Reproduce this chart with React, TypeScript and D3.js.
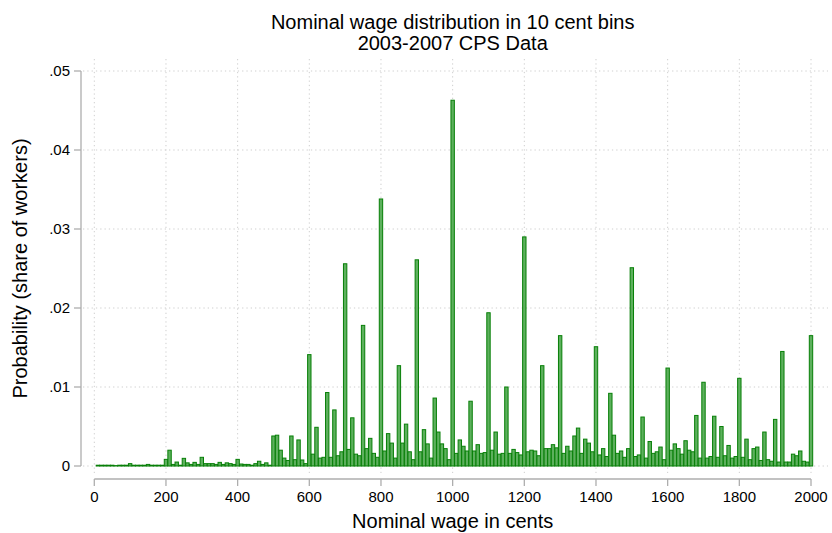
import React from "react";
import * as d3 from "d3";

// Share of workers in each 10-cent nominal wage bin (bin label = lower edge in cents)
const binWidth = 10;
const share0010to0200 = [
  0.0001, 0.0001, 0.0001, 0.0001, 0.0001, 0.00005, 0.0001, 0.0001, 0.0001, 0.0003,
  0.0001, 0.0001, 0.0001, 0.0001, 0.0002, 0.0001, 0.0001, 0.0001, 0.0001, 0.00084,
];
const share0210to0400 = [
  0.002, 0.0002, 0.0005, 0.0001, 0.00097, 0.0004, 0.0002, 0.00046, 0.0002, 0.0011,
  0.0003, 0.0003, 0.0003, 0.0002, 0.00046, 0.0002, 0.0004, 0.0003, 0.0002, 0.00084,
];
const share0410to0600 = [
  0.00025, 0.0002, 0.0002, 0.0001, 0.0003, 0.0006, 0.0002, 0.0004, 0.0001, 0.0038,
  0.0039, 0.002, 0.001, 0.0007, 0.0038, 0.0008, 0.0033, 0.00076, 0.0003, 0.0141,
];
const share0610to0800 = [
  0.0015, 0.0049, 0.001, 0.0011, 0.0093, 0.0011, 0.0071, 0.0013, 0.0018, 0.0256,
  0.0021, 0.0061, 0.0015, 0.0013, 0.0178, 0.0022, 0.0035, 0.0016, 0.0011, 0.0338,
];
const share0810to1000 = [
  0.0019, 0.0041, 0.0029, 0.001, 0.0127, 0.0029, 0.0053, 0.0018, 0.0008, 0.0261,
  0.0018, 0.0046, 0.0028, 0.001, 0.0086, 0.0043, 0.0028, 0.0022, 0.0008, 0.0463,
];
const share1010to1200 = [
  0.0016, 0.0033, 0.0025, 0.0019, 0.0082, 0.0019, 0.0027, 0.0016, 0.0017, 0.0194,
  0.002, 0.0043, 0.0015, 0.0016, 0.01, 0.0016, 0.0021, 0.0017, 0.0014, 0.029,
];
const share1210to1400 = [
  0.0018, 0.002, 0.0019, 0.0013, 0.0127, 0.0022, 0.0022, 0.0027, 0.0023, 0.0165,
  0.0016, 0.0025, 0.0019, 0.0038, 0.0048, 0.0016, 0.0034, 0.0029, 0.0018, 0.0151,
];
const share1410to1600 = [
  0.0014, 0.0022, 0.0012, 0.0092, 0.0039, 0.0016, 0.0019, 0.0011, 0.0022, 0.0251,
  0.0012, 0.0014, 0.0062, 0.001, 0.0031, 0.0016, 0.0018, 0.0024, 0.0008, 0.0124,
];
const share1610to1800 = [
  0.002, 0.0028, 0.0022, 0.0015, 0.0032, 0.002, 0.0018, 0.0064, 0.001, 0.0106,
  0.001, 0.0012, 0.0063, 0.0011, 0.005, 0.0013, 0.0026, 0.001, 0.0012, 0.0111,
];
const share1810to2000 = [
  0.0011, 0.0034, 0.0008, 0.0022, 0.0024, 0.0007, 0.0043, 0.0008, 0.0006, 0.0059,
  0.0005, 0.0145, 0.0005, 0.0005, 0.0015, 0.0013, 0.0019, 0.0006, 0.0005, 0.0165,
];

const xTicks = [0, 200, 400, 600, 800, 1000, 1200, 1400, 1600, 1800, 2000];
const yTicks = [0, 0.01, 0.02, 0.03, 0.04, 0.05];
const yTickLabels = ["0", ".01", ".02", ".03", ".04", ".05"];

const titleLines = ["Nominal wage distribution in 10 cent bins", "2003-2007 CPS Data"];
const xTitle = "Nominal wage in cents";
const yTitle = "Probability (share of workers)";

const shares = [
  ...share0010to0200, ...share0210to0400, ...share0410to0600, ...share0610to0800,
  ...share0810to1000, ...share1010to1200, ...share1210to1400, ...share1410to1600,
  ...share1610to1800, ...share1810to2000,
];
const bins = shares.map((v, i) => ({ wage: (i + 1) * binWidth, share: v }));

export default function App() {
  const W = 832;
  const H = 533;
  const x = d3.scaleLinear().domain([0, 2000]).range([94.3, 811]);
  const y = d3.scaleLinear().domain([0, 0.05]).range([466, 71]);
  const bw = x(binWidth) - x(0);
  const font = "'Liberation Sans', Arial, Helvetica, sans-serif";
  const axisColor = "#aeaeae";
  const gridColor = "#cfcfcf";

  return (
    <svg
      width={W}
      height={H}
      viewBox={`0 0 ${W} ${H}`}
      style={{ position: "absolute", left: 0, top: 0, background: "#fff" }}
      fontFamily={font}
    >
      <rect x={0} y={0} width={W} height={H} fill="#ffffff" />
      {/* gridlines */}
      {yTicks.map((t) => (
        <line key={"gy" + t} x1={83} x2={828} y1={y(t)} y2={y(t)} stroke={gridColor}
          strokeWidth={1} strokeDasharray="1.3 3" />
      ))}
      {xTicks.map((t) => (
        <line key={"gx" + t} x1={x(t)} x2={x(t)} y1={59} y2={473} stroke={gridColor}
          strokeWidth={1} strokeDasharray="1.3 3" />
      ))}
      {/* bars */}
      {bins.map((b) => (
        <rect
          key={b.wage}
          x={x(b.wage) - bw / 2 + 0.1}
          y={y(b.share)}
          width={bw - 0.2}
          height={Math.max(0, y(0) - y(b.share))}
          fill="#5db05d"
          stroke="#077f07"
          strokeWidth={1}
        />
      ))}
      {/* y axis */}
      <line x1={81} x2={81} y1={y(0.05)} y2={y(0)} stroke={axisColor} strokeWidth={1.3} />
      {yTicks.map((t, i) => (
        <g key={"yt" + t}>
          <line x1={74} x2={81} y1={y(t)} y2={y(t)} stroke={axisColor} strokeWidth={1.3} />
          <text x={70} y={y(t)} dy="0.36em" textAnchor="end" fontSize={15} fill="#000">
            {yTickLabels[i]}
          </text>
        </g>
      ))}
      {/* x axis */}
      <line x1={x(0)} x2={x(2000)} y1={479} y2={479} stroke={axisColor} strokeWidth={1.3} />
      {xTicks.map((t) => (
        <g key={"xt" + t}>
          <line x1={x(t)} x2={x(t)} y1={479} y2={486} stroke={axisColor} strokeWidth={1.3} />
          <text x={x(t)} y={502} textAnchor="middle" fontSize={15} fill="#000">
            {t}
          </text>
        </g>
      ))}
      {/* titles */}
      <text x={452.7} y={29} textAnchor="middle" fontSize={20} fill="#000">{titleLines[0]}</text>
      <text x={452.7} y={50} textAnchor="middle" fontSize={20} fill="#000">{titleLines[1]}</text>
      <text x={452.7} y={528} textAnchor="middle" fontSize={20} fill="#000">{xTitle}</text>
      <text
        transform={`translate(27, ${(y(0) + y(0.05)) / 2}) rotate(-90)`}
        textAnchor="middle"
        fontSize={20}
        fill="#000"
      >
        {yTitle}
      </text>
    </svg>
  );
}
